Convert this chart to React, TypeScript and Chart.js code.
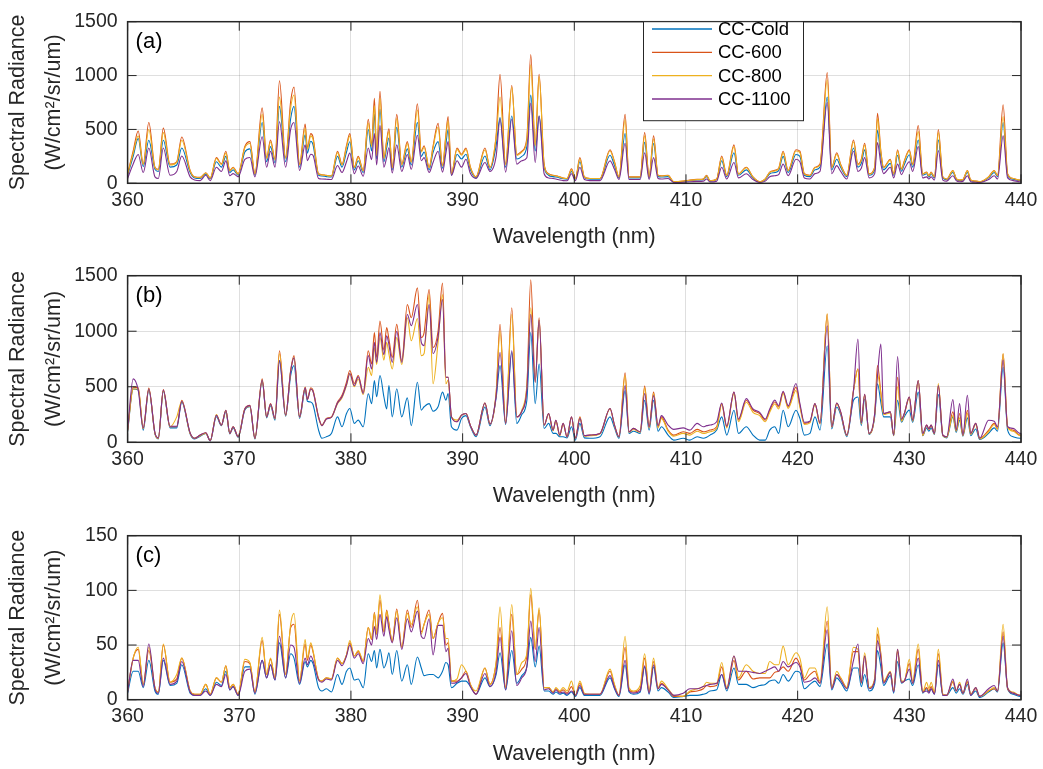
import React, { useEffect, useRef } from "react";
import { Chart, registerables } from "chart.js";

Chart.register(...registerables);

const FONT = '"Liberation Sans", Arial, Helvetica, sans-serif';
const INK = "#262626";
const GRID = "rgba(38,38,38,0.15)";

// Wavelength sample positions (nm), shared by all series
const wavelengths = [
  360.0, 360.5, 360.95, 361.4, 361.9, 362.45, 362.75, 363.2, 363.8, 364.4, 364.85, 365.6, 366.0, 366.5, 367.0, 367.4, 367.95, 368.4, 368.8, 369.15, 369.45, 369.9,
  370.5, 370.95, 371.4, 372.05, 372.45, 372.8, 373.2, 373.6, 374.15, 374.6, 374.9, 375.4, 375.9, 376.1, 376.4, 376.6, 377.1, 377.4, 377.8, 378.25, 378.8, 379.2, 379.6, 379.9, 380.3, 380.65,
  381.1, 381.55, 381.85, 382.1, 382.3, 382.6, 382.95, 383.2, 383.4, 383.7, 384.1, 384.55, 385.05, 385.4, 385.95, 386.3, 386.55, 387.0, 387.35, 387.8, 388.2, 388.5, 388.7,
  389.0, 389.5, 389.9, 390.3, 390.7, 391.2, 392.0, 392.45, 393.0, 393.35, 393.85, 394.4, 394.85, 395.3, 395.75, 396.1, 396.5, 396.85, 397.3, 397.7, 398.1, 398.35, 398.7, 399.0, 399.35, 399.75, 400.1, 400.5, 400.9, 401.4,
  402.3, 403.2, 403.6, 404.0, 404.55, 404.9, 405.3, 405.9, 406.3, 406.7, 407.1, 407.5, 407.8, 408.4, 408.9, 409.75, 410.35, 411.0, 411.55, 411.85, 412.15, 412.75,
  413.2, 413.65, 414.3, 414.7, 415.4, 416.0, 416.6, 417.1, 417.5, 417.95, 418.3, 418.7, 419.15, 419.85, 420.2, 420.6, 421.1, 421.55, 422.0, 422.65, 423.05, 423.5, 423.85, 424.4,
  425.0, 425.4, 425.7, 426.0, 426.4, 426.9, 427.15, 427.45, 427.7, 428.3, 428.6, 428.95, 429.3, 429.55, 430.0, 430.3, 430.8, 431.2, 431.55, 431.75, 431.95, 432.25, 432.6, 433.0,
  433.35, 433.9, 434.2, 434.5, 434.8, 435.2, 435.5, 435.95, 436.3, 437.1, 437.6, 437.9, 438.4, 438.8, 439.3, 439.9, 440.0,
];

// Panel (a)
const aCold = [
  75, 250, 417, 155, 400, 130, 110, 400, 150, 170, 327, 100, 50, 45, 85, 42, 200, 150, 250, 100, 125, 75,
  290, 320, 75, 565, 200, 340, 190, 714, 200, 600, 714, 150, 450, 280, 390, 360, 75, 68, 62, 58, 250, 150, 290, 385, 125, 210,
  100, 500, 300, 640, 225, 690, 200, 330, 420, 125, 520, 150, 320, 170, 565, 250, 290, 125, 285, 387, 140, 360, 500,
  75, 270, 225, 270, 125, 50, 253, 125, 348, 610, 150, 625, 225, 250, 340, 818, 300, 625, 150, 75, 62, 58, 50, 42, 38, 110, 38, 200, 50, 38,
  38, 260, 165, 50, 461, 50, 50, 50, 380, 50, 370, 62, 58, 62, 12, 17, 25, 30, 34, 62, 20, 34,
  210, 62, 283, 75, 125, 50, 12, 34, 88, 100, 118, 250, 100, 268, 250, 75, 62, 125, 150, 800, 125, 223, 150, 62,
  327, 150, 185, 310, 75, 125, 491, 250, 125, 185, 75, 260, 112, 175, 265, 150, 402, 75, 88, 58, 88, 50, 402, 50,
  34, 100, 38, 25, 30, 100, 25, 17, 12, 50, 100, 62, 565, 75, 38, 25, 25,
];
const a600 = [
  90, 300, 485, 180, 565, 150, 130, 512, 178, 200, 430, 119, 60, 55, 98, 50, 238, 180, 298, 119, 149, 89,
  342, 387, 89, 700, 238, 402, 225, 952, 238, 759, 893, 178, 550, 330, 461, 430, 89, 80, 74, 70, 298, 178, 350, 461, 150, 250,
  119, 595, 357, 788, 268, 854, 238, 400, 506, 150, 640, 178, 387, 200, 738, 300, 348, 149, 342, 556, 164, 450, 619,
  89, 327, 270, 327, 150, 60, 327, 149, 446, 1012, 178, 908, 268, 298, 417, 1196, 357, 1012, 178, 89, 74, 70, 60, 50, 45, 134, 45, 238, 60, 45,
  45, 312, 200, 60, 640, 60, 60, 60, 470, 60, 440, 75, 70, 74, 15, 20, 30, 36, 40, 74, 24, 40,
  253, 74, 357, 89, 149, 60, 15, 40, 104, 120, 140, 298, 119, 312, 298, 89, 74, 149, 178, 1027, 149, 283, 178, 74,
  402, 178, 223, 372, 89, 150, 649, 300, 149, 223, 89, 312, 134, 208, 312, 178, 536, 89, 104, 70, 104, 60, 500, 60,
  40, 119, 45, 30, 35, 119, 30, 20, 15, 60, 119, 74, 729, 89, 45, 30, 30,
];
const a800 = [
  85, 280, 440, 175, 500, 145, 125, 470, 170, 195, 400, 115, 58, 52, 95, 48, 230, 175, 280, 115, 145, 85,
  330, 370, 85, 640, 230, 385, 215, 800, 230, 700, 820, 170, 510, 315, 440, 410, 85, 78, 72, 68, 285, 170, 335, 440, 145, 240,
  115, 560, 340, 720, 255, 790, 230, 385, 480, 145, 600, 170, 370, 195, 680, 290, 335, 145, 330, 520, 160, 430, 580,
  85, 315, 260, 315, 145, 58, 310, 145, 430, 800, 170, 890, 260, 290, 400, 1100, 345, 990, 170, 85, 72, 68, 58, 48, 44, 125, 44, 225, 58, 44,
  44, 300, 195, 58, 590, 58, 58, 58, 440, 58, 410, 72, 68, 72, 15, 20, 28, 34, 38, 70, 24, 38,
  240, 72, 340, 85, 145, 58, 15, 40, 100, 115, 135, 285, 115, 300, 285, 85, 72, 145, 170, 960, 145, 270, 170, 72,
  385, 170, 215, 355, 85, 145, 600, 290, 145, 215, 85, 300, 130, 200, 300, 170, 480, 85, 100, 68, 100, 58, 470, 58,
  38, 115, 44, 30, 34, 115, 30, 20, 15, 58, 115, 72, 620, 85, 44, 30, 30,
];
const a1100 = [
  45, 180, 268, 100, 327, 60, 45, 327, 75, 110, 253, 60, 30, 25, 75, 25, 149, 110, 208, 70, 90, 60,
  223, 240, 60, 432, 149, 298, 150, 571, 149, 500, 565, 119, 357, 210, 270, 260, 45, 40, 38, 35, 165, 100, 200, 280, 90, 160,
  65, 327, 220, 461, 170, 535, 150, 240, 330, 95, 357, 110, 268, 130, 446, 210, 238, 100, 193, 298, 104, 280, 387,
  74, 210, 150, 223, 90, 45, 193, 110, 250, 595, 104, 595, 178, 210, 238, 744, 193, 625, 89, 50, 45, 40, 30, 25, 24, 89, 24, 149, 35, 25,
  25, 208, 130, 35, 372, 35, 35, 35, 283, 35, 238, 45, 40, 45, 8, 10, 15, 18, 20, 40, 12, 20,
  149, 40, 193, 50, 89, 35, 8, 20, 60, 70, 80, 178, 70, 223, 200, 50, 40, 90, 110, 750, 90, 164, 110, 40,
  298, 110, 140, 238, 50, 90, 378, 180, 90, 149, 50, 178, 80, 130, 200, 110, 342, 50, 60, 40, 60, 30, 304, 30,
  20, 70, 25, 15, 18, 70, 15, 10, 8, 35, 70, 40, 440, 50, 25, 15, 15,
];

// Panel (b)
const bCold = [
  95, 480, 470, 110, 470, 75, 30, 460, 130, 130, 360, 75, 30, 55, 80, 12, 230, 150, 275, 75, 130, 45,
  290, 320, 30, 550, 220, 330, 200, 735, 235, 600, 690, 215, 470, 370, 363, 340, 110, 36, 50, 80, 229, 140, 259, 304, 170, 200,
  140, 437, 348, 556, 410, 601, 410, 300, 512, 229, 482, 229, 400, 150, 541, 290, 320, 348, 280, 320, 452, 380, 440,
  140, 110, 215, 240, 140, 50, 318, 150, 400, 690, 160, 809, 170, 250, 378, 988, 348, 705, 125, 170, 80, 80, 50, 50, 40, 140, 20, 170, 40, 36,
  50, 229, 130, 36, 467, 80, 100, 80, 378, 110, 378, 100, 140, 65, 20, 36, 20, 50, 36, 45, 65, 110,
  229, 65, 289, 80, 140, 65, 20, 20, 110, 140, 80, 289, 140, 289, 215, 65, 80, 229, 110, 869, 120, 318, 250, 50,
  378, 408, 150, 390, 70, 230, 527, 360, 229, 229, 60, 378, 180, 230, 290, 180, 452, 60, 130, 100, 130, 70, 430, 60,
  40, 229, 90, 200, 55, 220, 60, 120, 25, 80, 130, 100, 676, 110, 50, 36, 36,
];
const b600 = [
  110, 497, 491, 125, 488, 80, 36, 476, 140, 140, 378, 80, 36, 65, 86, 15, 244, 155, 289, 80, 140, 50,
  304, 333, 36, 571, 229, 348, 215, 824, 244, 646, 780, 229, 497, 390, 491, 470, 229, 155, 215, 229, 363, 423, 541, 646, 530, 601,
  452, 824, 705, 988, 765, 1092, 830, 1033, 929, 765, 1062, 735, 1241, 1122, 1390, 943, 988, 1375, 854, 1000, 1434, 586, 586,
  229, 185, 244, 259, 150, 65, 354, 164, 437, 1062, 170, 1211, 229, 280, 497, 1464, 556, 1122, 155, 259, 110, 199, 65, 170, 50, 229, 36, 229, 60, 65,
  80, 304, 155, 50, 625, 95, 125, 95, 506, 140, 452, 140, 229, 110, 65, 95, 80, 116, 95, 100, 110, 140,
  348, 140, 452, 199, 378, 289, 259, 199, 289, 363, 318, 452, 318, 497, 333, 170, 185, 348, 170, 1152, 140, 354, 274, 65,
  467, 661, 170, 432, 80, 259, 690, 450, 259, 274, 65, 586, 200, 259, 408, 199, 556, 65, 155, 120, 155, 80, 512, 65,
  50, 274, 110, 259, 65, 289, 80, 170, 36, 110, 170, 125, 795, 140, 110, 65, 65,
];
const b800 = [
  105, 480, 480, 125, 480, 80, 36, 465, 140, 229, 370, 80, 36, 60, 80, 15, 250, 155, 285, 80, 140, 50,
  300, 325, 36, 560, 229, 340, 210, 800, 240, 640, 760, 225, 490, 385, 480, 460, 220, 150, 210, 225, 348, 400, 510, 616, 500, 570,
  430, 676, 600, 854, 700, 943, 740, 900, 795, 660, 943, 700, 1122, 914, 1114, 780, 800, 1330, 527, 900, 1330, 527, 560,
  229, 200, 244, 259, 150, 65, 354, 164, 450, 1000, 170, 1150, 229, 290, 510, 1211, 540, 1100, 155, 250, 105, 190, 60, 165, 48, 225, 36, 220, 55, 60,
  75, 300, 150, 48, 600, 90, 115, 90, 490, 130, 440, 130, 215, 100, 55, 80, 65, 100, 80, 85, 95, 125,
  340, 130, 440, 185, 360, 270, 240, 185, 270, 345, 300, 440, 305, 467, 320, 160, 175, 340, 165, 1160, 135, 345, 265, 60,
  460, 660, 165, 425, 75, 250, 610, 440, 250, 265, 60, 500, 190, 250, 400, 190, 550, 60, 150, 115, 150, 75, 530, 60,
  45, 240, 100, 220, 60, 260, 70, 160, 30, 95, 160, 115, 800, 135, 100, 60, 60,
];
const b1100 = [
  110, 571, 470, 130, 480, 85, 40, 470, 145, 145, 370, 85, 36, 65, 86, 15, 244, 155, 289, 80, 140, 50,
  300, 330, 36, 560, 229, 345, 215, 735, 244, 640, 760, 229, 490, 385, 480, 460, 225, 150, 210, 225, 355, 410, 520, 620, 510, 590,
  440, 780, 660, 900, 720, 988, 790, 960, 880, 720, 1000, 720, 1150, 1050, 1241, 900, 870, 1241, 800, 950, 1286, 586, 586,
  229, 185, 244, 259, 150, 65, 354, 164, 420, 809, 170, 824, 229, 280, 470, 1152, 540, 1100, 155, 259, 110, 199, 65, 170, 50, 229, 36, 215, 60, 65,
  80, 304, 155, 50, 510, 95, 125, 95, 440, 140, 420, 150, 240, 155, 116, 130, 110, 170, 140, 150, 155, 185,
  354, 145, 452, 210, 393, 300, 270, 210, 300, 380, 330, 460, 330, 530, 350, 180, 190, 348, 175, 1048, 140, 354, 274, 65,
  467, 929, 175, 432, 80, 259, 600, 884, 259, 274, 65, 771, 210, 259, 408, 199, 556, 80, 155, 120, 155, 80, 512, 65,
  50, 384, 110, 348, 65, 423, 80, 170, 36, 199, 190, 140, 740, 140, 125, 80, 80,
];

// Panel (c)
const cCold = [
  6, 26, 26, 11, 36, 8, 5, 36, 13, 15, 32, 6, 4, 4, 10, 4, 16, 13, 26, 9, 12, 4,
  30, 30, 5, 36, 20, 32, 18, 52, 20, 42, 38, 14, 35, 30, 36, 33, 11, 8, 10, 7, 23, 14, 26, 29, 18, 19,
  11, 42, 35, 45, 29, 46, 29, 35, 43, 23, 45, 17, 32, 14, 39, 29, 22, 23, 23, 20, 26, 34, 32,
  11, 15, 17, 17, 12, 5, 20, 12, 23, 43, 9, 45, 15, 22, 30, 57, 30, 49, 8, 8, 5, 7, 5, 6, 4, 7, 3, 11, 4, 4,
  4, 20, 10, 3, 32, 7, 5, 7, 30, 5, 30, 8, 11, 7, 2, 3, 4, 4, 5, 6, 8, 9,
  23, 8, 29, 14, 14, 11, 13, 14, 17, 18, 15, 23, 17, 26, 25, 10, 14, 17, 12, 51, 9, 20, 16, 8,
  29, 29, 12, 23, 8, 15, 45, 30, 13, 22, 6, 35, 15, 17, 19, 13, 32, 6, 10, 7, 10, 5, 32, 4,
  4, 11, 6, 10, 5, 14, 4, 8, 2, 7, 10, 7, 52, 10, 5, 3, 3,
];
const c600 = [
  8, 38, 46, 14, 45, 11, 7, 50, 16, 19, 38, 8, 5, 5, 14, 5, 20, 16, 31, 11, 14, 5,
  35, 33, 7, 54, 23, 37, 20, 78, 23, 66, 69, 17, 51, 36, 50, 44, 19, 17, 20, 19, 38, 33, 41, 52, 40, 44,
  35, 66, 55, 80, 60, 91, 62, 82, 70, 53, 83, 48, 82, 66, 91, 62, 69, 82, 56, 70, 79, 50, 52,
  17, 17, 20, 26, 14, 5, 29, 14, 33, 66, 11, 78, 23, 28, 40, 96, 46, 82, 11, 11, 7, 10, 7, 9, 6, 12, 4, 15, 5, 5,
  5, 26, 13, 4, 48, 9, 7, 10, 38, 7, 35, 10, 15, 9, 3, 3, 7, 8, 10, 13, 12, 13,
  30, 10, 36, 18, 26, 19, 20, 20, 20, 25, 26, 30, 26, 38, 32, 18, 23, 26, 15, 72, 11, 23, 20, 11,
  44, 44, 15, 40, 11, 18, 60, 42, 16, 25, 8, 44, 16, 17, 33, 15, 46, 7, 11, 8, 12, 6, 42, 5,
  4, 16, 8, 14, 6, 16, 5, 10, 3, 8, 10, 8, 62, 10, 6, 4, 4,
];
const c800 = [
  8, 38, 48, 14, 48, 11, 7, 51, 16, 23, 38, 8, 5, 5, 14, 5, 20, 16, 31, 11, 14, 5,
  37, 34, 7, 57, 23, 38, 20, 82, 23, 69, 79, 17, 55, 38, 52, 45, 19, 17, 20, 19, 38, 33, 41, 54, 40, 45,
  36, 66, 56, 79, 60, 96, 62, 81, 69, 54, 81, 48, 79, 69, 85, 60, 69, 78, 56, 70, 75, 56, 56,
  17, 19, 32, 26, 14, 8, 29, 14, 35, 85, 11, 87, 23, 34, 42, 102, 48, 84, 11, 11, 7, 11, 8, 11, 8, 17, 4, 17, 6, 5,
  5, 28, 14, 4, 58, 11, 8, 13, 42, 8, 38, 11, 17, 10, 4, 3, 8, 10, 12, 16, 15, 15,
  34, 11, 40, 20, 32, 26, 24, 24, 35, 32, 32, 49, 32, 43, 38, 20, 29, 29, 17, 85, 11, 26, 20, 11,
  48, 46, 17, 43, 11, 20, 66, 40, 17, 26, 8, 46, 17, 17, 37, 17, 51, 7, 16, 10, 16, 7, 46, 5,
  4, 17, 8, 16, 6, 17, 5, 11, 3, 8, 11, 8, 69, 11, 7, 4, 4,
];
const c1100 = [
  7, 36, 36, 12, 51, 10, 6, 38, 14, 17, 35, 7, 4, 4, 8, 4, 14, 12, 23, 9, 12, 4,
  26, 28, 6, 36, 20, 32, 18, 58, 20, 50, 48, 15, 38, 32, 40, 36, 18, 16, 19, 18, 36, 31, 40, 50, 38, 42,
  33, 56, 50, 67, 55, 78, 58, 76, 64, 52, 75, 46, 74, 62, 81, 58, 56, 74, 41, 68, 68, 44, 47,
  15, 16, 20, 24, 12, 5, 24, 12, 26, 57, 9, 63, 13, 20, 30, 72, 35, 66, 9, 10, 6, 9, 6, 7, 5, 8, 4, 13, 5, 5,
  5, 22, 11, 4, 36, 8, 6, 8, 31, 6, 32, 10, 14, 9, 4, 6, 10, 10, 12, 13, 14, 15,
  23, 10, 40, 26, 26, 25, 24, 26, 28, 30, 26, 35, 30, 34, 30, 16, 17, 20, 15, 64, 10, 23, 18, 10,
  36, 51, 16, 40, 10, 18, 54, 38, 15, 25, 7, 46, 16, 17, 28, 15, 38, 7, 8, 6, 10, 5, 36, 4,
  4, 19, 8, 14, 6, 19, 4, 11, 3, 10, 13, 8, 58, 11, 6, 4, 4,
];

const seriesNames = ["CC-Cold", "CC-600", "CC-800", "CC-1100"];
const seriesColors = ["#0072BD", "#D95319", "#EDB120", "#7E2F8E"];
const panelLabels = ["(a)", "(b)", "(c)"];
const yMaxes = [1500, 1500, 150];
const ySteps = [500, 500, 50];
const xTitle = "Wavelength (nm)";
const yTitle = ["Spectral Radiance", "(W/cm²/sr/um)"];

const panelSeries = [
  [aCold, a600, a800, a1100],
  [bCold, b600, b800, b1100],
  [cCold, c600, c800, c1100],
];

// canvas geometry: [top, height, padTop, padBottom]
const geometry = [
  [0, 254, 15.3, 2.7],
  [254, 260, 20.3, 3.7],
  [514, 255, 19.3, 1.3],
];

function makeFramePlugin(label: string, showLegend: boolean) {
  return {
    id: "frame_" + label,
    afterDraw(chart: any) {
      const { ctx, chartArea } = chart;
      const { left, top, right, bottom } = chartArea;
      const xs = chart.scales.x;
      const ys = chart.scales.y;
      ctx.save();
      ctx.strokeStyle = INK;
      ctx.lineWidth = 1;
      ctx.beginPath();
      xs.ticks.forEach((t: any) => {
        const px = xs.getPixelForValue(t.value);
        ctx.moveTo(px, bottom);
        ctx.lineTo(px, bottom - 9);
        ctx.moveTo(px, top);
        ctx.lineTo(px, top + 9);
      });
      ys.ticks.forEach((t: any) => {
        const py = ys.getPixelForValue(t.value);
        ctx.moveTo(left, py);
        ctx.lineTo(left + 9, py);
        ctx.moveTo(right, py);
        ctx.lineTo(right - 9, py);
      });
      ctx.stroke();
      ctx.lineWidth = 1.5;
      ctx.strokeRect(left, top, right - left, bottom - top);

      ctx.fillStyle = "#000";
      ctx.font = `22px ${FONT}`;
      ctx.textBaseline = "middle";
      ctx.textAlign = "left";
      ctx.fillText(label, left + 8, top + 20);

      if (showLegend) {
        const bx = 643, by = top, bw = 160, bh = 99;
        ctx.fillStyle = "#fff";
        ctx.fillRect(bx, by, bw, bh);
        ctx.lineWidth = 1;
        ctx.strokeStyle = INK;
        ctx.strokeRect(bx + 0.5, by, bw, bh);
        const rows = [29, 52.3, 75.7, 99];
        ctx.font = `18.5px ${FONT}`;
        seriesNames.forEach((name, k) => {
          ctx.strokeStyle = seriesColors[k];
          ctx.lineWidth = 1.3;
          ctx.beginPath();
          ctx.moveTo(652, rows[k]);
          ctx.lineTo(712, rows[k]);
          ctx.stroke();
          ctx.fillStyle = "#000";
          ctx.fillText(name, 718, rows[k] + 1);
        });
      }
      ctx.restore();
    },
  };
}

export default function App() {
  const refs = [useRef<HTMLCanvasElement>(null), useRef<HTMLCanvasElement>(null), useRef<HTMLCanvasElement>(null)];

  useEffect(() => {
    const charts: any[] = [];
    panelSeries.forEach((series, p) => {
      const canvas = refs[p].current;
      if (!canvas) return;
      const [, , padTop, padBottom] = geometry[p];
      const chart = new Chart(canvas, {
        type: "line",
        data: {
          datasets: series.map((vals, k) => ({
            label: seriesNames[k],
            data: wavelengths.map((w, i) => ({ x: w, y: vals[i] })),
            borderColor: seriesColors[k],
            backgroundColor: seriesColors[k],
            borderWidth: 1.1,
            pointRadius: 0,
            cubicInterpolationMode: "monotone",
            fill: false,
            order: 3 - k,
          })),
        },
        options: {
          responsive: false,
          animation: false,
          devicePixelRatio: 1,
          events: [],
          layout: { padding: { left: 0, right: 22, top: padTop, bottom: padBottom } },
          plugins: { legend: { display: false }, tooltip: { enabled: false } },
          scales: {
            x: {
              type: "linear",
              min: 360,
              max: 440,
              afterFit: (s: any) => {
                s.height = 68;
              },
              ticks: {
                stepSize: 10,
                color: INK,
                font: { family: FONT, size: 19.5 },
                padding: 5.5,
                maxRotation: 0,
                autoSkip: false,
                callback: (v: any) => String(v),
              },
              grid: { color: GRID, drawTicks: false, lineWidth: 1 },
              border: { display: false },
              title: {
                display: true,
                text: xTitle,
                color: INK,
                font: { family: FONT, size: 21.5 },
                padding: { top: 0, bottom: 1 },
              },
            },
            y: {
              type: "linear",
              min: 0,
              max: yMaxes[p],
              afterFit: (s: any) => {
                s.width = 127.6;
              },
              ticks: {
                stepSize: ySteps[p],
                color: INK,
                font: { family: FONT, size: 19.5 },
                padding: 10,
                callback: (v: any) => String(v),
              },
              grid: { color: GRID, drawTicks: false, lineWidth: 1 },
              border: { display: false },
              title: {
                display: true,
                text: yTitle,
                color: INK,
                font: { family: FONT, size: 21.5, lineHeight: 1.68 },
                padding: { top: 0, bottom: 0 },
              },
            },
          },
        } as any,
        plugins: [makeFramePlugin(panelLabels[p], p === 0)],
      });
      charts.push(chart);
    });
    return () => {
      charts.forEach((c) => c.destroy());
    };
  }, []);

  return (
    <div style={{ position: "fixed", left: 0, top: 0, width: 1043, height: 769, background: "#fff" }}>
      {geometry.map((g, p) => (
        <canvas
          key={p}
          ref={refs[p]}
          width={1043}
          height={g[1]}
          style={{ position: "absolute", left: 0, top: g[0], width: 1043, height: g[1] }}
        />
      ))}
    </div>
  );
}
